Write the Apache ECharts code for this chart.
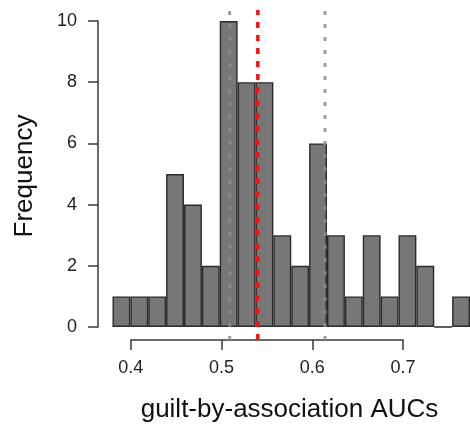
<!DOCTYPE html>
<html>
<head>
<meta charset="utf-8">
<script src="https://cdn.jsdelivr.net/npm/echarts@6/dist/echarts.min.js"></script>
<style>
html,body{margin:0;padding:0;background:#fff;}
#chart{width:470px;height:425px;}
</style>
</head>
<body>
<div id="chart"></div>
<script>
// Histogram bins (lower edges) and counts
const binStarts = [0.38,0.40,0.42,0.44,0.46,0.48,0.50,0.52,0.54,0.56,0.58,0.60,0.62,0.64,0.66,0.68,0.70,0.72,0.74,0.76];
const counts    = [1,1,1,5,4,2,10,8,8,3,2,6,3,1,3,1,3,2,0,1];
// Reference lines
const grayLines = [0.509, 0.614];
const redLine   = 0.540;
// Tick labels
const yTicks = [0,2,4,6,8,10];
const xTicks = [0.4,0.5,0.6,0.7];
const xTitle = 'guilt-by-association AUCs';
const yTitle = 'Frequency';

const FONT = '"Liberation Sans", Arial, Helvetica, sans-serif';
const AX = '#3a3a3a';

const chart = echarts.init(document.getElementById('chart'), null, {renderer:'canvas'});

const refSeries = [];
grayLines.forEach(v => refSeries.push({
  type:'line', xAxisIndex:1, yAxisIndex:1, symbol:'none', silent:true, z:5,
  data:[[v,0],[v,1]],
  lineStyle:{color:'rgba(140,140,140,0.85)', width:3, type:[4,9]}
}));
refSeries.push({
  type:'line', xAxisIndex:1, yAxisIndex:1, symbol:'none', silent:true, z:6,
  data:[[redLine,0],[redLine,1]],
  lineStyle:{color:'#ff1010', width:3.5, type:[6,7]}
});

chart.setOption({
  animation:false,
  backgroundColor:'#ffffff',
  grid:[
    {left:112.5, top:21, width:363.2, height:306},
    {left:130.7, top:10, width:272.4, height:330}
  ],
  xAxis:[
    {gridIndex:0, type:'category', data:binStarts.map(String), show:false, boundaryGap:true},
    {gridIndex:1, type:'value', min:xTicks[0], max:xTicks[xTicks.length-1], interval:0.1,
     axisLine:{show:true, lineStyle:{color:AX, width:1.5}},
     axisTick:{show:true, length:10, inside:false, lineStyle:{color:AX, width:1.5}},
     splitLine:{show:false},
     axisLabel:{show:true, margin:19, fontSize:18, color:'#222', fontFamily:FONT,
       formatter:v => v.toFixed(1)}}
  ],
  yAxis:[
    {gridIndex:0, type:'value', min:yTicks[0], max:yTicks[yTicks.length-1], interval:2, offset:14.5,
     axisLine:{show:true, lineStyle:{color:AX, width:1.5}},
     axisTick:{show:true, length:10, inside:false, lineStyle:{color:AX, width:1.5}},
     splitLine:{show:false},
     axisLabel:{show:true, margin:21, fontSize:18, color:'#222', fontFamily:FONT}},
    {gridIndex:1, type:'value', min:0, max:1, show:false}
  ],
  series:[
    {type:'bar', xAxisIndex:0, yAxisIndex:0, data:counts, barWidth:'100%', barCategoryGap:'0%',
     itemStyle:{color:'#777777', borderColor:'#2a2a2a', borderWidth:1.4}, z:2, silent:true}
  ].concat(refSeries),
  graphic:[
    {type:'text', x:289.5, y:410, style:{text:xTitle, fill:'#111', font:'26px '+FONT, textAlign:'center', textVerticalAlign:'middle'}},
    {type:'text', x:25, y:176, rotation:Math.PI/2, style:{text:yTitle, fill:'#111', font:'26px '+FONT, textAlign:'center', textVerticalAlign:'middle'}}
  ]
});
</script>
</body>
</html>
